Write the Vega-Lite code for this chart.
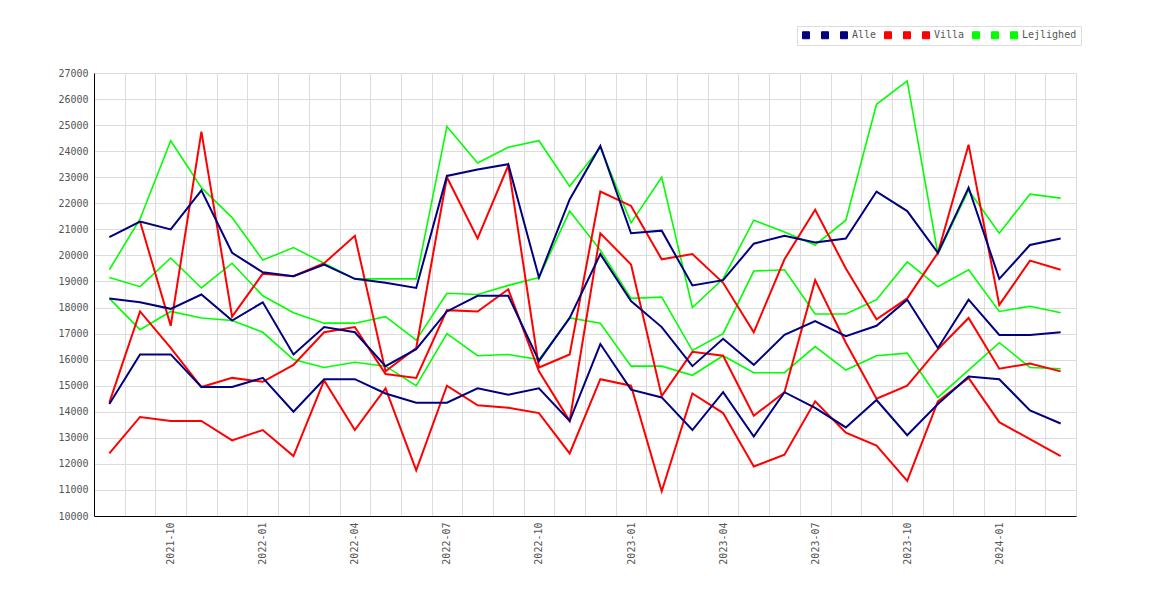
{
  "$schema": "https://vega.github.io/schema/vega-lite/v6.json",
  "width": 982,
  "height": 443,
  "autosize": {"type": "none"},
  "padding": {"left": 94, "top": 73, "right": 94, "bottom": 84},
  "background": "white",
  "config": {
    "view": {"stroke": null},
    "font": "DejaVu Sans Mono"
  },
  "data": {
    "values": [
      {"m":"2021-08","s":"Alle-a","v":20700},{"m":"2021-09","s":"Alle-a","v":21300},{"m":"2021-10","s":"Alle-a","v":21000},{"m":"2021-11","s":"Alle-a","v":22500},
      {"m":"2021-12","s":"Alle-a","v":20100},{"m":"2022-01","s":"Alle-a","v":19350},{"m":"2022-02","s":"Alle-a","v":19200},{"m":"2022-03","s":"Alle-a","v":19650},
      {"m":"2022-04","s":"Alle-a","v":19100},{"m":"2022-05","s":"Alle-a","v":18950},{"m":"2022-06","s":"Alle-a","v":18750},{"m":"2022-07","s":"Alle-a","v":23050},
      {"m":"2022-08","s":"Alle-a","v":23300},{"m":"2022-09","s":"Alle-a","v":23500},{"m":"2022-10","s":"Alle-a","v":19150},{"m":"2022-11","s":"Alle-a","v":22150},
      {"m":"2022-12","s":"Alle-a","v":24200},{"m":"2023-01","s":"Alle-a","v":20850},{"m":"2023-02","s":"Alle-a","v":20950},{"m":"2023-03","s":"Alle-a","v":18850},
      {"m":"2023-04","s":"Alle-a","v":19050},{"m":"2023-05","s":"Alle-a","v":20450},{"m":"2023-06","s":"Alle-a","v":20750},{"m":"2023-07","s":"Alle-a","v":20500},
      {"m":"2023-08","s":"Alle-a","v":20650},{"m":"2023-09","s":"Alle-a","v":22450},{"m":"2023-10","s":"Alle-a","v":21700},{"m":"2023-11","s":"Alle-a","v":20100},
      {"m":"2023-12","s":"Alle-a","v":22600},{"m":"2024-01","s":"Alle-a","v":19100},{"m":"2024-02","s":"Alle-a","v":20400},{"m":"2024-03","s":"Alle-a","v":20650},

      {"m":"2021-08","s":"Alle","v":18350},{"m":"2021-09","s":"Alle","v":18200},{"m":"2021-10","s":"Alle","v":17950},{"m":"2021-11","s":"Alle","v":18500},
      {"m":"2021-12","s":"Alle","v":17500},{"m":"2022-01","s":"Alle","v":18200},{"m":"2022-02","s":"Alle","v":16200},{"m":"2022-03","s":"Alle","v":17250},
      {"m":"2022-04","s":"Alle","v":17050},{"m":"2022-05","s":"Alle","v":15750},{"m":"2022-06","s":"Alle","v":16400},{"m":"2022-07","s":"Alle","v":17850},
      {"m":"2022-08","s":"Alle","v":18450},{"m":"2022-09","s":"Alle","v":18450},{"m":"2022-10","s":"Alle","v":15950},{"m":"2022-11","s":"Alle","v":17600},
      {"m":"2022-12","s":"Alle","v":20050},{"m":"2023-01","s":"Alle","v":18250},{"m":"2023-02","s":"Alle","v":17250},{"m":"2023-03","s":"Alle","v":15750},
      {"m":"2023-04","s":"Alle","v":16800},{"m":"2023-05","s":"Alle","v":15800},{"m":"2023-06","s":"Alle","v":16950},{"m":"2023-07","s":"Alle","v":17480},
      {"m":"2023-08","s":"Alle","v":16900},{"m":"2023-09","s":"Alle","v":17300},{"m":"2023-10","s":"Alle","v":18300},{"m":"2023-11","s":"Alle","v":16450},
      {"m":"2023-12","s":"Alle","v":18300},{"m":"2024-01","s":"Alle","v":16950},{"m":"2024-02","s":"Alle","v":16950},{"m":"2024-03","s":"Alle","v":17050},

      {"m":"2021-08","s":"Alle-b","v":14300},{"m":"2021-09","s":"Alle-b","v":16200},{"m":"2021-10","s":"Alle-b","v":16200},{"m":"2021-11","s":"Alle-b","v":14950},
      {"m":"2021-12","s":"Alle-b","v":14950},{"m":"2022-01","s":"Alle-b","v":15300},{"m":"2022-02","s":"Alle-b","v":14000},{"m":"2022-03","s":"Alle-b","v":15250},
      {"m":"2022-04","s":"Alle-b","v":15250},{"m":"2022-05","s":"Alle-b","v":14700},{"m":"2022-06","s":"Alle-b","v":14350},{"m":"2022-07","s":"Alle-b","v":14350},
      {"m":"2022-08","s":"Alle-b","v":14900},{"m":"2022-09","s":"Alle-b","v":14650},{"m":"2022-10","s":"Alle-b","v":14900},{"m":"2022-11","s":"Alle-b","v":13650},
      {"m":"2022-12","s":"Alle-b","v":16600},{"m":"2023-01","s":"Alle-b","v":14850},{"m":"2023-02","s":"Alle-b","v":14550},{"m":"2023-03","s":"Alle-b","v":13300},
      {"m":"2023-04","s":"Alle-b","v":14750},{"m":"2023-05","s":"Alle-b","v":13050},{"m":"2023-06","s":"Alle-b","v":14750},{"m":"2023-07","s":"Alle-b","v":14150},
      {"m":"2023-08","s":"Alle-b","v":13400},{"m":"2023-09","s":"Alle-b","v":14450},{"m":"2023-10","s":"Alle-b","v":13100},{"m":"2023-11","s":"Alle-b","v":14300},
      {"m":"2023-12","s":"Alle-b","v":15350},{"m":"2024-01","s":"Alle-b","v":15250},{"m":"2024-02","s":"Alle-b","v":14050},{"m":"2024-03","s":"Alle-b","v":13550},

      {"m":"2021-09","s":"Villa-a","v":21300},{"m":"2021-10","s":"Villa-a","v":17300},{"m":"2021-11","s":"Villa-a","v":24750},
      {"m":"2021-12","s":"Villa-a","v":17650},{"m":"2022-01","s":"Villa-a","v":19300},{"m":"2022-02","s":"Villa-a","v":19200},{"m":"2022-03","s":"Villa-a","v":19700},
      {"m":"2022-04","s":"Villa-a","v":20750},{"m":"2022-05","s":"Villa-a","v":15550},{"m":"2022-06","s":"Villa-a","v":16450},{"m":"2022-07","s":"Villa-a","v":23000},
      {"m":"2022-08","s":"Villa-a","v":20650},{"m":"2022-09","s":"Villa-a","v":23450},{"m":"2022-10","s":"Villa-a","v":15700},{"m":"2022-11","s":"Villa-a","v":16200},
      {"m":"2022-12","s":"Villa-a","v":22450},{"m":"2023-01","s":"Villa-a","v":21900},{"m":"2023-02","s":"Villa-a","v":19850},{"m":"2023-03","s":"Villa-a","v":20050},
      {"m":"2023-04","s":"Villa-a","v":18950},{"m":"2023-05","s":"Villa-a","v":17050},{"m":"2023-06","s":"Villa-a","v":19850},{"m":"2023-07","s":"Villa-a","v":21750},
      {"m":"2023-08","s":"Villa-a","v":19500},{"m":"2023-09","s":"Villa-a","v":17550},{"m":"2023-10","s":"Villa-a","v":18350},{"m":"2023-11","s":"Villa-a","v":20100},
      {"m":"2023-12","s":"Villa-a","v":24250},{"m":"2024-01","s":"Villa-a","v":18100},{"m":"2024-02","s":"Villa-a","v":19800},{"m":"2024-03","s":"Villa-a","v":19450},

      {"m":"2021-08","s":"Villa","v":14350},{"m":"2021-09","s":"Villa","v":17850},{"m":"2021-10","s":"Villa","v":16450},{"m":"2021-11","s":"Villa","v":14950},
      {"m":"2021-12","s":"Villa","v":15300},{"m":"2022-01","s":"Villa","v":15150},{"m":"2022-02","s":"Villa","v":15800},{"m":"2022-03","s":"Villa","v":17050},
      {"m":"2022-04","s":"Villa","v":17250},{"m":"2022-05","s":"Villa","v":15450},{"m":"2022-06","s":"Villa","v":15300},{"m":"2022-07","s":"Villa","v":17900},
      {"m":"2022-08","s":"Villa","v":17850},{"m":"2022-09","s":"Villa","v":18700},{"m":"2022-10","s":"Villa","v":15550},{"m":"2022-11","s":"Villa","v":13650},
      {"m":"2022-12","s":"Villa","v":20850},{"m":"2023-01","s":"Villa","v":19650},{"m":"2023-02","s":"Villa","v":14600},{"m":"2023-03","s":"Villa","v":16300},
      {"m":"2023-04","s":"Villa","v":16150},{"m":"2023-05","s":"Villa","v":13850},{"m":"2023-06","s":"Villa","v":14750},{"m":"2023-07","s":"Villa","v":19050},
      {"m":"2023-08","s":"Villa","v":16650},{"m":"2023-09","s":"Villa","v":14500},{"m":"2023-10","s":"Villa","v":15000},{"m":"2023-11","s":"Villa","v":16400},
      {"m":"2023-12","s":"Villa","v":17600},{"m":"2024-01","s":"Villa","v":15650},{"m":"2024-02","s":"Villa","v":15850},{"m":"2024-03","s":"Villa","v":15550},

      {"m":"2021-08","s":"Villa-b","v":12400},{"m":"2021-09","s":"Villa-b","v":13800},{"m":"2021-10","s":"Villa-b","v":13650},{"m":"2021-11","s":"Villa-b","v":13650},
      {"m":"2021-12","s":"Villa-b","v":12900},{"m":"2022-01","s":"Villa-b","v":13300},{"m":"2022-02","s":"Villa-b","v":12300},{"m":"2022-03","s":"Villa-b","v":15200},
      {"m":"2022-04","s":"Villa-b","v":13300},{"m":"2022-05","s":"Villa-b","v":14900},{"m":"2022-06","s":"Villa-b","v":11750},{"m":"2022-07","s":"Villa-b","v":15000},
      {"m":"2022-08","s":"Villa-b","v":14250},{"m":"2022-09","s":"Villa-b","v":14150},{"m":"2022-10","s":"Villa-b","v":13950},{"m":"2022-11","s":"Villa-b","v":12400},
      {"m":"2022-12","s":"Villa-b","v":15250},{"m":"2023-01","s":"Villa-b","v":15000},{"m":"2023-02","s":"Villa-b","v":10950},{"m":"2023-03","s":"Villa-b","v":14700},
      {"m":"2023-04","s":"Villa-b","v":13950},{"m":"2023-05","s":"Villa-b","v":11900},{"m":"2023-06","s":"Villa-b","v":12350},{"m":"2023-07","s":"Villa-b","v":14400},
      {"m":"2023-08","s":"Villa-b","v":13200},{"m":"2023-09","s":"Villa-b","v":12700},{"m":"2023-10","s":"Villa-b","v":11350},{"m":"2023-11","s":"Villa-b","v":14400},
      {"m":"2023-12","s":"Villa-b","v":15300},{"m":"2024-01","s":"Villa-b","v":13600},{"m":"2024-02","s":"Villa-b","v":12950},{"m":"2024-03","s":"Villa-b","v":12300},

      {"m":"2021-08","s":"Lejlighed-a","v":19450},{"m":"2021-09","s":"Lejlighed-a","v":21400},{"m":"2021-10","s":"Lejlighed-a","v":24400},{"m":"2021-11","s":"Lejlighed-a","v":22600},
      {"m":"2021-12","s":"Lejlighed-a","v":21450},{"m":"2022-01","s":"Lejlighed-a","v":19820},{"m":"2022-02","s":"Lejlighed-a","v":20300},{"m":"2022-03","s":"Lejlighed-a","v":19700},
      {"m":"2022-04","s":"Lejlighed-a","v":19100},{"m":"2022-05","s":"Lejlighed-a","v":19100},{"m":"2022-06","s":"Lejlighed-a","v":19100},{"m":"2022-07","s":"Lejlighed-a","v":24950},
      {"m":"2022-08","s":"Lejlighed-a","v":23550},{"m":"2022-09","s":"Lejlighed-a","v":24150},{"m":"2022-10","s":"Lejlighed-a","v":24400},{"m":"2022-11","s":"Lejlighed-a","v":22650},
      {"m":"2022-12","s":"Lejlighed-a","v":24150},{"m":"2023-01","s":"Lejlighed-a","v":21250},{"m":"2023-02","s":"Lejlighed-a","v":23000},{"m":"2023-03","s":"Lejlighed-a","v":18000},
      {"m":"2023-04","s":"Lejlighed-a","v":19100},{"m":"2023-05","s":"Lejlighed-a","v":21350},{"m":"2023-06","s":"Lejlighed-a","v":20900},{"m":"2023-07","s":"Lejlighed-a","v":20400},
      {"m":"2023-08","s":"Lejlighed-a","v":21350},{"m":"2023-09","s":"Lejlighed-a","v":25800},{"m":"2023-10","s":"Lejlighed-a","v":26700},{"m":"2023-11","s":"Lejlighed-a","v":20050},
      {"m":"2023-12","s":"Lejlighed-a","v":22500},{"m":"2024-01","s":"Lejlighed-a","v":20850},{"m":"2024-02","s":"Lejlighed-a","v":22350},{"m":"2024-03","s":"Lejlighed-a","v":22200},

      {"m":"2021-08","s":"Lejlighed","v":19150},{"m":"2021-09","s":"Lejlighed","v":18800},{"m":"2021-10","s":"Lejlighed","v":19900},{"m":"2021-11","s":"Lejlighed","v":18750},
      {"m":"2021-12","s":"Lejlighed","v":19700},{"m":"2022-01","s":"Lejlighed","v":18450},{"m":"2022-02","s":"Lejlighed","v":17800},{"m":"2022-03","s":"Lejlighed","v":17400},
      {"m":"2022-04","s":"Lejlighed","v":17400},{"m":"2022-05","s":"Lejlighed","v":17650},{"m":"2022-06","s":"Lejlighed","v":16750},{"m":"2022-07","s":"Lejlighed","v":18550},
      {"m":"2022-08","s":"Lejlighed","v":18500},{"m":"2022-09","s":"Lejlighed","v":18850},{"m":"2022-10","s":"Lejlighed","v":19150},{"m":"2022-11","s":"Lejlighed","v":21700},
      {"m":"2022-12","s":"Lejlighed","v":20200},{"m":"2023-01","s":"Lejlighed","v":18350},{"m":"2023-02","s":"Lejlighed","v":18400},{"m":"2023-03","s":"Lejlighed","v":16350},
      {"m":"2023-04","s":"Lejlighed","v":17000},{"m":"2023-05","s":"Lejlighed","v":19400},{"m":"2023-06","s":"Lejlighed","v":19450},{"m":"2023-07","s":"Lejlighed","v":17750},
      {"m":"2023-08","s":"Lejlighed","v":17750},{"m":"2023-09","s":"Lejlighed","v":18300},{"m":"2023-10","s":"Lejlighed","v":19750},{"m":"2023-11","s":"Lejlighed","v":18800},
      {"m":"2023-12","s":"Lejlighed","v":19450},{"m":"2024-01","s":"Lejlighed","v":17850},{"m":"2024-02","s":"Lejlighed","v":18050},{"m":"2024-03","s":"Lejlighed","v":17800},

      {"m":"2021-08","s":"Lejlighed-b","v":18350},{"m":"2021-09","s":"Lejlighed-b","v":17150},{"m":"2021-10","s":"Lejlighed-b","v":17850},{"m":"2021-11","s":"Lejlighed-b","v":17600},
      {"m":"2021-12","s":"Lejlighed-b","v":17500},{"m":"2022-01","s":"Lejlighed-b","v":17050},{"m":"2022-02","s":"Lejlighed-b","v":16000},{"m":"2022-03","s":"Lejlighed-b","v":15700},
      {"m":"2022-04","s":"Lejlighed-b","v":15900},{"m":"2022-05","s":"Lejlighed-b","v":15750},{"m":"2022-06","s":"Lejlighed-b","v":15000},{"m":"2022-07","s":"Lejlighed-b","v":17000},
      {"m":"2022-08","s":"Lejlighed-b","v":16150},{"m":"2022-09","s":"Lejlighed-b","v":16200},{"m":"2022-10","s":"Lejlighed-b","v":16000},{"m":"2022-11","s":"Lejlighed-b","v":17600},
      {"m":"2022-12","s":"Lejlighed-b","v":17400},{"m":"2023-01","s":"Lejlighed-b","v":15750},{"m":"2023-02","s":"Lejlighed-b","v":15750},{"m":"2023-03","s":"Lejlighed-b","v":15400},
      {"m":"2023-04","s":"Lejlighed-b","v":16150},{"m":"2023-05","s":"Lejlighed-b","v":15500},{"m":"2023-06","s":"Lejlighed-b","v":15500},{"m":"2023-07","s":"Lejlighed-b","v":16500},
      {"m":"2023-08","s":"Lejlighed-b","v":15600},{"m":"2023-09","s":"Lejlighed-b","v":16150},{"m":"2023-10","s":"Lejlighed-b","v":16250},{"m":"2023-11","s":"Lejlighed-b","v":14550},
      {"m":"2023-12","s":"Lejlighed-b","v":15600},{"m":"2024-01","s":"Lejlighed-b","v":16650},{"m":"2024-02","s":"Lejlighed-b","v":15700},{"m":"2024-03","s":"Lejlighed-b","v":15650}
    ]
  },
  "encoding": {
    "x": {
      "field": "m",
      "type": "ordinal",
      "bandPosition": 0.5,
      "scale": {"type": "band", "paddingInner": 0, "paddingOuter": 0},
      "axis": {
        "title": null,
        "tickBand": "extent",
        "ticks": false,
        "grid": true,
        "gridColor": "#dcdcdc",
        "domainColor": "#000000",
        "labelAngle": -90,
        "labelPadding": 6,
        "labelOverlap": false,
        "labelFont": "DejaVu Sans Mono",
        "labelFontSize": 10,
        "labelColor": "#555555",
        "labelExpr": "(toNumber(substring(datum.label, 5, 7)) - 1) % 3 == 0 ? datum.label : ''"
      }
    },
    "y": {
      "field": "v",
      "type": "quantitative",
      "scale": {"domain": [10000, 27000], "nice": false, "zero": false},
      "axis": {
        "title": null,
        "format": "d",
        "values": [10000, 11000, 12000, 13000, 14000, 15000, 16000, 17000, 18000, 19000, 20000, 21000, 22000, 23000, 24000, 25000, 26000, 27000],
        "ticks": false,
        "grid": true,
        "gridColor": "#dcdcdc",
        "domainColor": "#000000",
        "labelPadding": 6,
        "labelFont": "DejaVu Sans Mono",
        "labelFontSize": 10,
        "labelColor": "#555555"
      }
    },
    "color": {
      "field": "s",
      "type": "nominal",
      "scale": {
        "domain": ["Alle-a", "Alle-b", "Alle", "Villa-a", "Villa-b", "Villa", "Lejlighed-a", "Lejlighed-b", "Lejlighed"],
        "range": ["#000080", "#000080", "#000080", "#ff0000", "#ff0000", "#ff0000", "#00ff00", "#00ff00", "#00ff00"]
      },
      "legend": {
        "title": null,
        "orient": "none",
        "legendX": 703,
        "legendY": -47,
        "direction": "horizontal",
        "symbolType": "square",
        "symbolSize": 49,
        "symbolStrokeWidth": 1,
        "labelFont": "DejaVu Sans Mono",
        "labelFontSize": 10,
        "labelColor": "#555555",
        "labelOffset": 3,
        "columnPadding": 5,
        "padding": 4,
        "strokeColor": "#dddddd",
        "labelExpr": "indexof(datum.label, '-') >= 0 ? ' ' : datum.label",
        "encode": {
          "symbols": {
            "update": {
              "fill": {"scale": "color", "field": "value"},
              "fillOpacity": {"value": 1},
              "stroke": {"value": "#444444"}
            }
          }
        }
      }
    }
  },
  "layer": [
    {
      "transform": [{"filter": "indexof(datum.s, 'Lejlighed') == 0"}],
      "mark": {"type": "line", "strokeWidth": 1.6}
    },
    {
      "transform": [{"filter": "indexof(datum.s, 'Villa') == 0"}],
      "mark": {"type": "line", "strokeWidth": 2}
    },
    {
      "transform": [{"filter": "indexof(datum.s, 'Alle') == 0"}],
      "mark": {"type": "line", "strokeWidth": 2}
    }
  ]
}
